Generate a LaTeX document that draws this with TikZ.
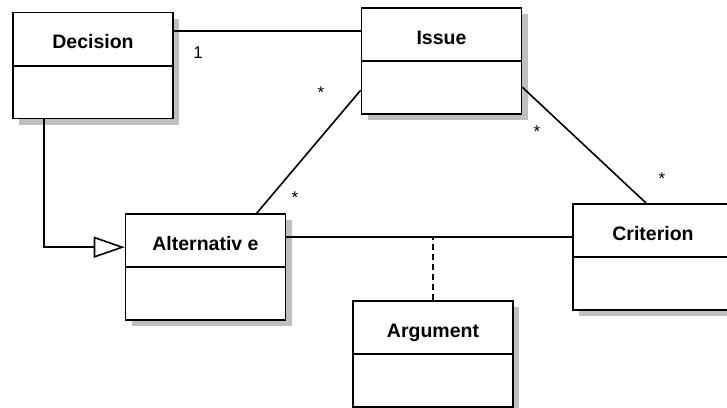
\documentclass[tikz,border=0pt]{standalone}
\usepackage{fontspec}
\setmainfont{Liberation Sans}
\usetikzlibrary{arrows.meta,shadows,calc}
\begin{document}
\begin{tikzpicture}[x=1pt,y=-1pt,
  cls/.style={draw, line width=1.6pt, fill=white, inner sep=0pt,
    minimum width=160pt, minimum height=106pt,
    drop shadow={shadow xshift=6pt, shadow yshift=-6pt, fill=black!25, opacity=1}},
  ttl/.style={font=\fontsize{19.5}{20}\selectfont\bfseries, anchor=base, inner sep=0pt},
  mult/.style={font=\fontsize{17}{18}\selectfont, inner sep=0pt},
  conn/.style={line width=1.6pt},
  gen/.style={conn, -{Triangle[open, length=31pt, width=21pt, fill=white]}},
]
\useasboundingbox (0,0) rectangle (727,407);

% class boxes
\node[cls] (dec) at (93,65.5) {};
\node[cls] (iss) at (441.5,61) {};
\node[cls] (alt) at (205.5,267) {};
\node[cls] (cri) at (653,257) {};
\node[cls] (arg) at (433,354) {};

% compartment dividers and class names
\foreach \c/\t in {dec/Decision, iss/Issue, alt/Alternativ e, cri/Criterion, arg/Argument}{
  \draw[conn] ([yshift=-54pt]\c.north west) -- ([yshift=-54pt]\c.north east);
  \node[ttl] (\c-name) at ([yshift=-37pt]\c.north) {\t};
}

% associations
\draw[conn] ([yshift=-19.5pt]dec.north east) -- ([yshift=-24pt]iss.north west);
\draw[conn] ([yshift=-83pt]iss.north west) -- ([xshift=132pt]alt.north west);
\draw[conn] ([yshift=-80pt]iss.north east) -- ([xshift=74pt]cri.north west);
\draw[conn] ([yshift=-23.5pt]alt.north east) -- coordinate[pos=0.515] (ac) ([yshift=-33.5pt]cri.north west);

% association class link
\draw[conn, dash pattern=on 6pt off 4pt] (arg.north) -- (arg.north |- ac);

% generalization
\draw[gen] ([xshift=32pt]dec.south west) |- ([yshift=-34pt]alt.north west);

% multiplicities
\node[mult] (m1) at (198,53) {1};
\node[mult] (m2) at (321,92.5) {*};
\node[mult] (m3) at (295,197.5) {*};
\node[mult] (m4) at (537,131.5) {*};
\node[mult] (m5) at (662,178.5) {*};
\end{tikzpicture}
\end{document}
